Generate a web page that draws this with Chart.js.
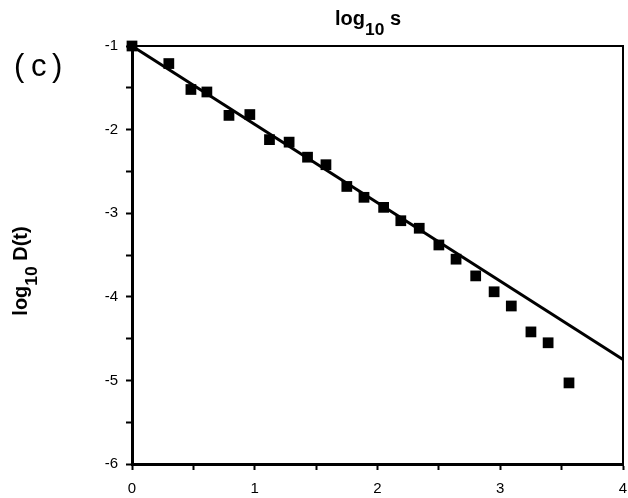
<!DOCTYPE html>
<html>
<head>
<meta charset="utf-8">
<script src="https://cdn.jsdelivr.net/npm/chart.js@4.4.0/dist/chart.umd.min.js"></script>
<style>
  html, body { margin: 0; padding: 0; background: #fff; }
  #wrap { width: 628px; height: 498px; }
</style>
</head>
<body>
<div id="wrap"><canvas id="scatter_chart"></canvas></div>
<script>
// log10 s
var logS = [0, 0.30, 0.48, 0.61, 0.79, 0.96, 1.12, 1.28, 1.43, 1.58, 1.75, 1.89,
            2.05, 2.19, 2.34, 2.50, 2.64, 2.80, 2.95, 3.09, 3.25, 3.39, 3.56];
// log10 D(t)
var logD = [-1.00, -1.21, -1.52, -1.55, -1.83, -1.82, -2.12, -2.15, -2.33, -2.42, -2.68, -2.81,
            -2.93, -3.09, -3.18, -3.38, -3.55, -3.75, -3.94, -4.11, -4.42, -4.55, -5.03];
// fitted line end points
var fitX = [0, 4];
var fitY = [-1.0, -4.75];
var xTicks = [0, 1, 2, 3, 4];
var yTicks = [-6, -5, -4, -3, -2, -1];

var FONT = '"Liberation Sans", Arial, sans-serif';

// "log" + subscript "10" + rest, centred on the current origin, alphabetic baseline at 0
function subText(ctx, parts, size) {
    var w = 0;
    parts.forEach(function (p) {
        ctx.font = 'bold ' + (p.sub ? size * 0.87 : size) + 'px ' + FONT;
        p.w = ctx.measureText(p.t).width;
        w += p.w;
    });
    var x = -w / 2;
    parts.forEach(function (p) {
        ctx.font = 'bold ' + (p.sub ? size * 0.87 : size) + 'px ' + FONT;
        ctx.fillText(p.t, x, p.sub ? size * 0.5 : 0);
        x += p.w;
    });
}

var decorations = {
    id: 'decorations',
    afterDraw: function (chart) {
        var ctx = chart.ctx, a = chart.chartArea;
        ctx.save();
        // frame top and right
        ctx.strokeStyle = '#000';
        ctx.lineWidth = 2;
        ctx.beginPath();
        ctx.moveTo(a.left, a.top);
        ctx.lineTo(a.right, a.top);
        ctx.lineTo(a.right, a.bottom);
        ctx.stroke();

        ctx.fillStyle = '#000';
        ctx.textBaseline = 'alphabetic';
        ctx.textAlign = 'left';
        // top title
        ctx.save();
        ctx.translate(368, 25);
        subText(ctx, [{t: 'log'}, {t: '10', sub: true}, {t: ' s'}], 20);
        ctx.restore();
        // y title
        ctx.save();
        ctx.translate(27, 271);
        ctx.rotate(-Math.PI / 2);
        subText(ctx, [{t: 'log'}, {t: '10', sub: true}, {t: ' D(t)'}], 20);
        ctx.restore();
        // panel label, spaced out
        ctx.font = '31px ' + FONT;
        ctx.fillText('(', 14, 76);
        ctx.fillText('c', 31, 76);
        ctx.fillText(')', 52, 76);
        ctx.restore();
    }
};

var pts = logS.map(function (x, i) { return {x: x, y: logD[i]}; });
var fit = fitX.map(function (x, i) { return {x: x, y: fitY[i]}; });

function tickLabel(list) {
    return function (v) {
        return list.indexOf(v) >= 0 ? String(v) : '';
    };
}

new Chart(document.getElementById('scatter_chart').getContext('2d'), {
    type: 'scatter',
    data: {
        datasets: [{
            type: 'line',
            label: 'fit',
            data: fit,
            borderColor: '#000',
            borderWidth: 3,
            pointRadius: 0,
            fill: false,
            clip: false
        }, {
            label: 'data',
            data: pts,
            pointStyle: 'rect',
            pointRadius: 7.6,
            pointBackgroundColor: '#000',
            pointBorderColor: '#000',
            pointBorderWidth: 0,
            clip: false
        }]
    },
    options: {
        responsive: true,
        maintainAspectRatio: false,
        animation: false,
        events: [],
        layout: { autoPadding: false, padding: { left: 0, right: 5, top: 46, bottom: 0 } },
        plugins: { legend: { display: false }, tooltip: { enabled: false } },
        scales: {
            x: {
                type: 'linear',
                min: 0,
                max: 4,
                afterFit: function (s) {
                    s.height = 34;
                    s.paddingLeft = 0;
                    s.paddingRight = 0;
                },
                ticks: {
                    stepSize: 0.5,
                    autoSkip: false,
                    maxRotation: 0,
                    padding: 10,
                    color: '#000',
                    font: { family: FONT, size: 15 },
                    callback: tickLabel(xTicks)
                },
                grid: { drawOnChartArea: false, tickLength: 6, tickWidth: 2, color: '#000' },
                border: { color: '#000', width: 3 }
            },
            y: {
                type: 'linear',
                min: -6,
                max: -1,
                afterFit: function (s) {
                    s.width = 132;
                    s.paddingTop = 0;
                    s.paddingBottom = 0;
                },
                ticks: {
                    stepSize: 0.5,
                    autoSkip: false,
                    padding: 8,
                    color: '#000',
                    font: { family: FONT, size: 15 },
                    callback: tickLabel(yTicks)
                },
                grid: { drawOnChartArea: false, tickLength: 6, tickWidth: 2, color: '#000' },
                border: { color: '#000', width: 3 }
            }
        }
    },
    plugins: [decorations]
});
</script>
</body>
</html>
